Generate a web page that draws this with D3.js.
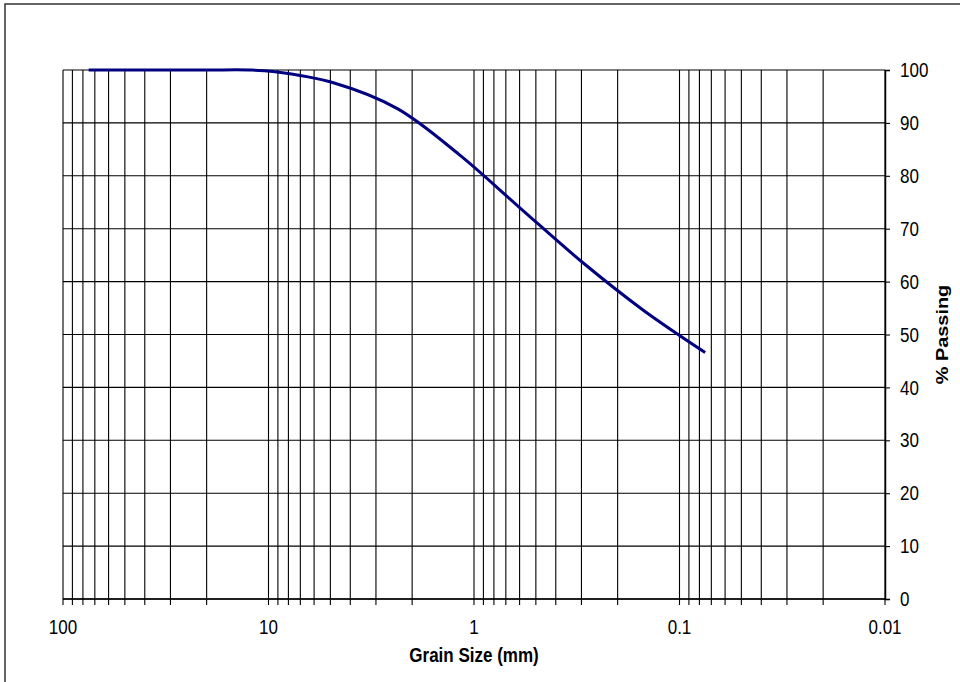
<!DOCTYPE html>
<html>
<head>
<meta charset="utf-8">
<script src="https://cdn.jsdelivr.net/npm/d3@7"></script>
<style>
  html, body { margin: 0; padding: 0; background: #fff; }
  svg { display: block; font-family: "Liberation Sans", Arial, sans-serif; }
</style>
</head>
<body>
<svg id="chart" width="960" height="682"></svg>
<script>
// ---- Data ----
const sieveSizes = [75, 50, 37.5, 25, 19, 12.5, 9.5, 4.75, 2.36, 1.18, 0.6, 0.3, 0.15, 0.075];
const percentPassing = [100, 100, 100, 100, 100, 100, 99.7, 97.5, 92.7, 84, 74, 63.8, 54.6, 46.6];
const xTickLabels = [100, 10, 1, 0.1, 0.01];
const minorMultipliers = [1, 2, 3, 4, 5, 6, 7, 8, 9];
const yTickValues = [0, 10, 20, 30, 40, 50, 60, 70, 80, 90, 100];
const xTitle = "Grain Size (mm)";
const yTitle = "% Passing";

(function () {
  // ---- Layout ----
  const pL = 63, pR = 885, pT = 70, pB = 599;
  const sy = 1.17; // vertical stretch of text in reference
  const svg = d3.select("#chart");

  // Outer border
  svg.append("rect")
    .attr("x", 5).attr("y", 4).attr("width", 1000).attr("height", 1000)
    .attr("fill", "none").attr("stroke", "#333").attr("stroke-width", 1.5);

  const x = d3.scaleLog().domain([100, 0.01]).range([pL, pR]);
  const y = d3.scaleLinear().domain([0, 100]).range([pB, pT]);

  // vertical grid values (all 1..9 multiples per decade)
  const gridX = [];
  [0.01, 0.1, 1, 10].forEach(d => minorMultipliers.forEach(m => gridX.push(d * m)));
  gridX.push(100);

  const g = svg.append("g");

  g.selectAll("line.vg").data(gridX).join("line")
    .attr("class", "vg")
    .attr("x1", d => x(d)).attr("x2", d => x(d))
    .attr("y1", pT).attr("y2", pB + 6)
    .attr("stroke", "#000").attr("stroke-width", 1.1);

  g.selectAll("line.hg").data(yTickValues).join("line")
    .attr("class", "hg")
    .attr("x1", pL).attr("x2", pR)
    .attr("y1", d => y(d)).attr("y2", d => y(d))
    .attr("stroke", "#000").attr("stroke-width", 1.1);

  g.append("line")
    .attr("x1", pL).attr("x2", pR).attr("y1", pB).attr("y2", pB)
    .attr("stroke", "#000").attr("stroke-width", 1.5);

  // right y axis (lines only; labels drawn separately)
  const yAxis = d3.axisRight(y).tickValues(yTickValues).tickSize(5).tickFormat("");
  const ya = svg.append("g").attr("transform", `translate(${pR},0)`).call(yAxis);
  ya.select(".domain").attr("stroke", "#000").attr("stroke-width", 1.5);
  ya.selectAll(".tick line").attr("stroke", "#000").attr("stroke-width", 1.1);

  // y tick labels
  svg.selectAll("text.yl").data(yTickValues).join("text")
    .attr("class", "yl")
    .attr("transform", d => `translate(900,${y(d)}) scale(1,${sy})`)
    .attr("dy", "0.36em")
    .attr("font-size", 17).attr("fill", "#000")
    .text(d => String(d));

  // x tick labels
  svg.selectAll("text.xl").data(xTickLabels).join("text")
    .attr("class", "xl")
    .attr("transform", d => `translate(${x(d)},634) scale(1,${sy})`)
    .attr("text-anchor", "middle")
    .attr("font-size", 17).attr("fill", "#000")
    .text(d => String(d));

  // titles
  svg.append("text")
    .attr("transform", `translate(${(pL + pR) / 2},662) scale(1,${sy})`)
    .attr("text-anchor", "middle").attr("font-size", 17).attr("font-weight", "bold")
    .text(xTitle);

  svg.append("text")
    .attr("transform", `translate(948,${(pT + pB) / 2}) scale(1,${sy}) rotate(-90)`)
    .attr("text-anchor", "middle").attr("font-size", 17).attr("font-weight", "bold")
    .text(yTitle);

  // data line
  const pts = sieveSizes.map((s, i) => [x(s), y(percentPassing[i])]);
  svg.append("path")
    .attr("d", d3.line().curve(d3.curveCatmullRom.alpha(0.5))(pts))
    .attr("fill", "none").attr("stroke", "#000080").attr("stroke-width", 3);
})();
</script>
</body>
</html>
